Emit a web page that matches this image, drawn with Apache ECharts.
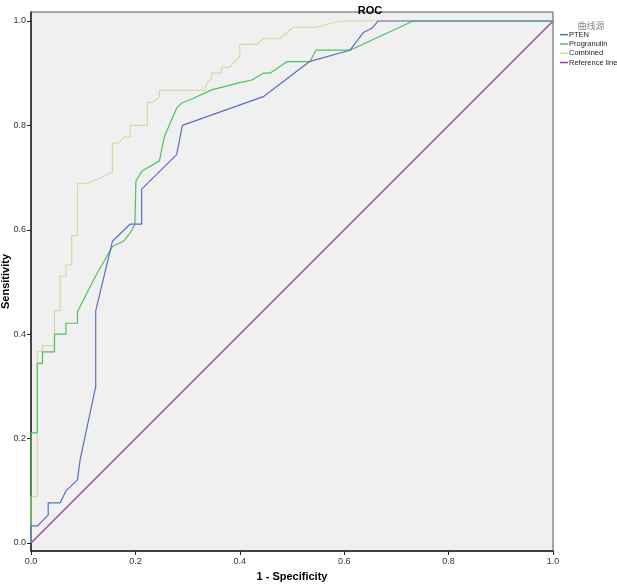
<!DOCTYPE html>
<html>
<head>
<meta charset="utf-8">
<script src="https://cdn.jsdelivr.net/npm/echarts@6/dist/echarts.min.js"></script>
<style>html,body{margin:0;padding:0;background:#fff;}#c{width:617px;height:584px;}</style>
</head>
<body>
<div id="c"></div>
<script>
const seriesNames = ['PTEN', 'Progranulin', 'Combined', 'Reference line'];
const tickValues = [0, 0.2, 0.4, 0.6, 0.8, 1.0];

const ptenX = [0, 0, 0.013, 0.033, 0.033, 0.056, 0.067, 0.089, 0.094, 0.124, 0.124, 0.156, 0.19, 0.212, 0.212, 0.279, 0.29, 0.445, 0.533, 0.611, 0.637, 0.653, 0.665, 1.0];
const ptenY = [0, 0.033, 0.033, 0.054, 0.077, 0.077, 0.1, 0.121, 0.159, 0.30, 0.445, 0.578, 0.611, 0.611, 0.678, 0.744, 0.80, 0.855, 0.922, 0.944, 0.978, 0.986, 1.0, 1.0];

const progX = [0, 0, 0.012, 0.012, 0.022, 0.022, 0.045, 0.045, 0.067, 0.067, 0.089, 0.089, 0.123, 0.156, 0.177, 0.19, 0.199, 0.201, 0.212, 0.246, 0.255, 0.257, 0.279, 0.289, 0.305, 0.346, 0.4, 0.423, 0.445, 0.458, 0.49, 0.534, 0.546, 0.611, 0.732, 1.0];
const progY = [0, 0.211, 0.211, 0.344, 0.344, 0.366, 0.366, 0.4, 0.4, 0.421, 0.421, 0.443, 0.51, 0.568, 0.578, 0.594, 0.61, 0.693, 0.712, 0.732, 0.776, 0.782, 0.833, 0.843, 0.849, 0.868, 0.882, 0.887, 0.9, 0.9, 0.922, 0.922, 0.944, 0.944, 1.0, 1.0];

const combX = [0, 0, 0.012, 0.012, 0.022, 0.022, 0.045, 0.045, 0.056, 0.056, 0.067, 0.067, 0.078, 0.078, 0.089, 0.089, 0.112, 0.156, 0.156, 0.167, 0.179, 0.19, 0.19, 0.223, 0.223, 0.234, 0.246, 0.246, 0.333, 0.337, 0.346, 0.346, 0.365, 0.365, 0.38, 0.4, 0.4, 0.433, 0.445, 0.477, 0.502, 0.547, 0.592, 1.0];
const combY = [0, 0.089, 0.089, 0.367, 0.367, 0.378, 0.378, 0.445, 0.445, 0.511, 0.511, 0.533, 0.533, 0.589, 0.589, 0.688, 0.69, 0.71, 0.766, 0.766, 0.778, 0.778, 0.8, 0.8, 0.844, 0.844, 0.855, 0.867, 0.867, 0.882, 0.889, 0.9, 0.9, 0.911, 0.911, 0.932, 0.955, 0.955, 0.966, 0.966, 0.988, 0.988, 1.0, 1.0];

const refX = [0, 1];
const refY = [0, 1];

const colors = ['#5a6fc4', '#4cc35a', '#dcd6a6', '#9a3c9e'];

function pairs(xs, ys) { return xs.map((x, i) => [x, ys[i]]); }
const allData = [pairs(ptenX, ptenY), pairs(progX, progY), pairs(combX, combY), pairs(refX, refY)];

const FONT = 'Liberation Sans, Arial, sans-serif';
const chart = echarts.init(document.getElementById('c'), null, {renderer: 'canvas'});
chart.setOption({
  animation: false,
  backgroundColor: '#ffffff',
  title: [
    {text: 'ROC', left: 365, top: 0, textAlign: 'center',
     textStyle: {fontFamily: FONT, fontSize: 11, fontWeight: 'bold', color: '#000'}},
    {text: '曲线源', left: 586, top: 16, textAlign: 'center',
     textStyle: {fontFamily: 'Noto Sans CJK SC', fontSize: 9, fontWeight: 'normal', color: '#888'}}
  ],
  legend: {
    orient: 'vertical', left: 560, top: 30,
    icon: 'rect', itemWidth: 8, itemHeight: 1.5, itemGap: 0,
    data: seriesNames,
    textStyle: {fontFamily: FONT, fontSize: 7.5, color: '#222', lineHeight: 9.3, padding: [0, 0, 0, -4]},
    padding: 0
  },
  grid: {left: 31, right: 64, top: 12, bottom: 33, containLabel: false, outerBoundsMode: 'none',
         show: true, backgroundColor: '#f0f0f0', borderColor: '#555', borderWidth: 1},
  xAxis: {
    type: 'value', min: 0, max: 1,
    name: '1 - Specificity', nameLocation: 'middle', nameGap: 20, nameMoveOverlap: false,
    nameTextStyle: {fontFamily: FONT, fontSize: 11, fontWeight: 'bold', color: '#000'},
    axisLine: {show: true, onZero: false, lineStyle: {color: '#222', width: 1.5}},
    axisTick: {show: true, length: 4, customValues: tickValues, lineStyle: {color: '#222'}},
    axisLabel: {customValues: tickValues, fontFamily: FONT, fontSize: 9, color: '#333', margin: 6, formatter: v => v.toFixed(1)},
    splitLine: {show: false}
  },
  yAxis: {
    type: 'value', min: -0.0153, max: 1.0172,
    name: 'Sensitivity', nameLocation: 'middle', nameGap: 20, nameRotate: 90, nameMoveOverlap: false,
    nameTextStyle: {fontFamily: FONT, fontSize: 11, fontWeight: 'bold', color: '#000'},
    axisLine: {show: true, onZero: false, lineStyle: {color: '#222', width: 1.5}},
    axisTick: {show: true, length: 4, customValues: tickValues, lineStyle: {color: '#222'}},
    axisLabel: {customValues: tickValues, fontFamily: FONT, fontSize: 9, color: '#333', margin: 5, formatter: v => v.toFixed(1)},
    splitLine: {show: false}
  },
  series: seriesNames.map((n, i) => ({
    name: n, type: 'line', data: allData[i], showSymbol: false, symbol: 'none',
    lineStyle: {color: colors[i], width: 1.2}, itemStyle: {color: colors[i]},
    z: 10 - i
  }))
});
</script>
</body>
</html>
